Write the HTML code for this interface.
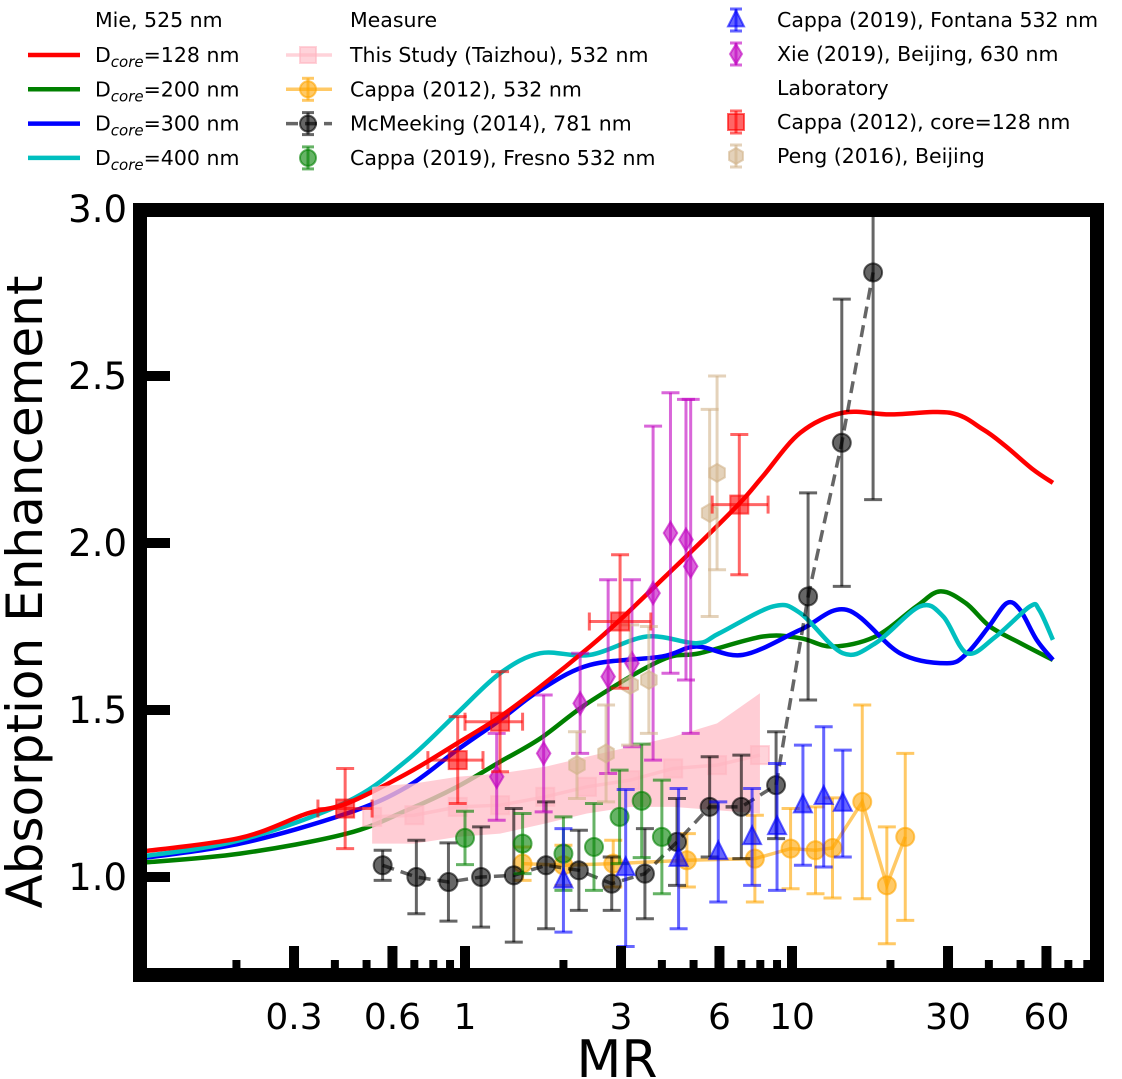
<!DOCTYPE html>
<html><head><meta charset="utf-8">
<style>
html,body{margin:0;padding:0;background:#fff;}
svg{display:block;font-family:"DejaVu Sans","Liberation Sans",sans-serif;}
</style></head>
<body>
<svg id="chart" width="1122" height="1079" viewBox="0 0 1122 1079" xmlns="http://www.w3.org/2000/svg">
<defs><clipPath id="plotclip"><rect x="147" y="217" width="943" height="751"/></clipPath></defs>
<g id="plot" clip-path="url(#plotclip)"></g>
<g id="axes"></g>
<g id="legend"></g>
</svg>
<script>
// ---- Mie curves ----
const mieRedMR = [0.1,0.205,0.329,0.435,0.665,0.945,1.28,1.70,2.41,2.98,4.1,5.23,6.93,8.15,10.6,14.3,20,30.4,38.4,45,54.6,62.8];
const mieRedE  = [1.075,1.117,1.19,1.22,1.31,1.40,1.48,1.57,1.69,1.77,1.90,2.00,2.12,2.20,2.33,2.39,2.385,2.39,2.34,2.29,2.22,2.18];
const mieGreenMR = [0.1,0.205,0.435,0.665,0.945,1.28,1.70,2.41,4.0,5.23,8.15,10.6,13.3,18,24,28.4,34,40.3,50,62.8];
const mieGreenE  = [1.042,1.07,1.13,1.20,1.27,1.345,1.415,1.525,1.65,1.67,1.72,1.715,1.69,1.72,1.81,1.855,1.82,1.75,1.70,1.65];
const mieBlueMR = [0.1,0.205,0.435,0.665,0.945,1.28,1.70,2.41,4.0,5.1,7.08,10.6,14.7,21.4,29.8,34.3,40,45.4,49.8,56,62.8];
const mieBlueE  = [1.055,1.10,1.19,1.27,1.38,1.47,1.56,1.635,1.66,1.69,1.665,1.74,1.80,1.67,1.64,1.67,1.75,1.82,1.80,1.71,1.65];
const mieCyanMR = [0.1,0.205,0.435,0.665,0.945,1.28,1.70,2.41,3.6,5.1,6.0,8.75,10.6,14.3,18,24.6,29,34.3,42,53.4,57,62.8];
const mieCyanE  = [1.06,1.11,1.225,1.35,1.49,1.61,1.67,1.665,1.72,1.70,1.73,1.81,1.79,1.67,1.70,1.81,1.78,1.67,1.72,1.81,1.80,1.71];
// ---- This study (Taizhou) ----
const studyMR = [0.52,0.70,0.95,1.28,1.76,2.36,3.2,4.33,5.9,7.98];
const studyE  = [1.18,1.185,1.21,1.215,1.24,1.27,1.29,1.325,1.335,1.365];
const studyHi = [1.27,1.28,1.30,1.31,1.33,1.36,1.39,1.42,1.46,1.55];
const studyLo = [1.10,1.10,1.12,1.13,1.16,1.19,1.21,1.21,1.20,1.19];
// ---- Cappa 2012 ambient ----
const cappa12MR = [1.5,2.0,2.84,4.77,7.7,9.9,11.8,13.3,16.4,19.5,22.2];
const cappa12E  = [1.04,1.035,1.04,1.05,1.055,1.085,1.08,1.087,1.225,0.975,1.12];
const cappa12Err= [0.05,0.06,0.07,0.08,0.13,0.12,0.13,0.15,0.29,0.175,0.25];
// ---- McMeeking 2014 ----
const mcmMR = [0.56,0.71,0.89,1.12,1.41,1.77,2.23,2.81,3.55,4.45,5.6,7.0,8.94,11.2,14.2,17.7];
const mcmE  = [1.035,1.0,0.985,1.0,1.005,1.035,1.02,0.98,1.01,1.105,1.21,1.21,1.275,1.84,2.30,2.81];
const mcmErr= [0.045,0.11,0.117,0.15,0.2,0.19,0.12,0.08,0.135,0.13,0.15,0.155,0.16,0.31,0.43,0.68];
// ---- Cappa 2019 Fresno ----
const fresnoMR = [1.0,1.5,2.0,2.48,2.97,3.47,4.0];
const fresnoE  = [1.117,1.10,1.07,1.09,1.18,1.228,1.12];
const fresnoErr= [0.08,0.09,0.11,0.13,0.14,0.17,0.17];
// ---- Cappa 2019 Fontana ----
const fontanaMR = [2.0,3.1,4.5,5.95,7.55,9.0,10.8,12.5,14.3];
const fontanaE  = [0.99,1.027,1.055,1.075,1.12,1.15,1.215,1.24,1.22];
const fontanaErr= [0.155,0.235,0.21,0.15,0.145,0.19,0.18,0.21,0.16];
// ---- Xie 2019 ----
const xieMR = [1.25,1.74,2.25,2.74,3.24,3.76,4.25,4.74,4.9];
const xieE  = [1.30,1.37,1.52,1.60,1.64,1.85,2.03,2.01,1.93];
const xieErr= [0.13,0.175,0.15,0.29,0.25,0.5,0.42,0.42,0.5];
// ---- Peng 2016 ----
const pengMR = [2.2,2.7,3.2,3.65,5.6,5.9];
const pengE  = [1.335,1.37,1.575,1.59,2.09,2.21];
const pengErr= [0.1,0.145,0.18,0.16,0.31,0.29];
// ---- Cappa 2012 laboratory ----
const labMR = [0.43,0.95,1.28,2.98,6.9];
const labE  = [1.205,1.35,1.465,1.765,2.115];
const labErr= [0.12,0.13,0.15,0.2,0.21];
const labXLo= [0.355,0.77,1.0,2.4,5.7];
const labXHi= [0.52,1.135,1.5,3.7,8.45];
// ---- axis ticks ----
const yTicks = [1.0,1.5,2.0,2.5,3.0];
const xMajor = [0.3,0.6,1,3,6,10,30,60];
const xMajorLabels = ["0.3","0.6","1","3","6","10","30","60"];
const xMinor = [0.2,0.4,0.5,0.7,0.8,0.9,2,4,5,7,8,9,20,40,50,70,80];

const NS="http://www.w3.org/2000/svg";
const X = v => 465 + 327*Math.log10(v);
const Y = v => 877 - (v-1)*334;
const plot=document.getElementById('plot'), axes=document.getElementById('axes'), legend=document.getElementById('legend');
function mk(tag, attrs, parent){const e=document.createElementNS(NS,tag);for(const k in attrs)e.setAttribute(k,attrs[k]);parent.appendChild(e);return e;}
function smoothPath(pts){
  let d=`M${pts[0][0]},${pts[0][1]}`;
  for(let i=0;i<pts.length-1;i++){
    const p0=pts[i-1]||pts[i],p1=pts[i],p2=pts[i+1],p3=pts[i+2]||p2;
    const c1=[p1[0]+(p2[0]-p0[0])/6,p1[1]+(p2[1]-p0[1])/6];
    const c2=[p2[0]-(p3[0]-p1[0])/6,p2[1]-(p3[1]-p1[1])/6];
    d+=` C${c1[0]},${c1[1]} ${c2[0]},${c2[1]} ${p2[0]},${p2[1]}`;
  }
  return d;
}
function mieCurve(mr,e,color,name){
  const p=mk('path',{d:smoothPath(mr.map((m,i)=>[X(m),Y(e[i])])),fill:'none',stroke:color,'stroke-width':4.5},plot);
  
  
}
function marker(shape,cx,cy,color,r,parent){
  let el;
  if(shape==='circle') el=mk('circle',{cx,cy,r},parent);
  else if(shape==='square') el=mk('rect',{x:cx-r,y:cy-r,width:2*r,height:2*r},parent);
  else if(shape==='tri') el=mk('polygon',{points:`${cx},${cy-r*1.2} ${cx-r},${cy+r*0.8} ${cx+r},${cy+r*0.8}`},parent);
  else if(shape==='diamond') el=mk('polygon',{points:`${cx},${cy-r*1.25} ${cx-r*0.75},${cy} ${cx},${cy+r*1.25} ${cx+r*0.75},${cy}`},parent);
  else if(shape==='hex'){let pts=[];for(let k=0;k<6;k++){const a=Math.PI/6+k*Math.PI/3;pts.push(`${cx+r*Math.cos(a)},${cy+r*Math.sin(a)}`);}el=mk('polygon',{points:pts.join(' ')},parent);}
  el.setAttribute('fill',color);el.setAttribute('fill-opacity',0.6);
  el.setAttribute('stroke',color);el.setAttribute('stroke-opacity',0.6);el.setAttribute('stroke-width',2);
  return el;
}
function vbar(cx,y1,y2,color,parent,cap){
  mk('line',{x1:cx,x2:cx,y1,y2,stroke:color,'stroke-width':3,'stroke-opacity':0.6},parent);
  mk('line',{x1:cx-cap,x2:cx+cap,y1,y2:y1,stroke:color,'stroke-width':3,'stroke-opacity':0.6},parent);
  mk('line',{x1:cx-cap,x2:cx+cap,y1:y2,y2,stroke:color,'stroke-width':3,'stroke-opacity':0.6},parent);
}
function series(mr,e,err,color,shape,name,line,dash){
  const g=mk('g',{},plot);
  
  
  if(line){
    const attrs={points:mr.map((m,i)=>`${X(m)},${Y(e[i])}`).join(' '),fill:'none',stroke:color,'stroke-width':3.5,'stroke-opacity':0.6};
    if(dash) attrs['stroke-dasharray']=dash;
    mk('polyline',attrs,g);
  }
  mr.forEach((m,i)=>{
    const cx=X(m),cy=Y(e[i]);
    if(err) vbar(cx,Y(e[i]+err[i]),Y(e[i]-err[i]),color,g,9);
    const mkr=marker(shape,cx,cy,color,9,g);
    
    
  });
}
// Mie curves
mieCurve(mieGreenMR,mieGreenE,'#008000','mie-curve-200nm');
mieCurve(mieBlueMR,mieBlueE,'#0000ff','mie-curve-300nm');
mieCurve(mieCyanMR,mieCyanE,'#00bfbf','mie-curve-400nm');
mieCurve(mieRedMR,mieRedE,'#ff0000','mie-curve-128nm');
// This study band + line
const band=mk('polygon',{points:studyMR.map((m,i)=>`${X(m)},${Y(studyHi[i])}`).concat(studyMR.slice().reverse().map((m,j)=>{const i=studyMR.length-1-j;return `${X(m)},${Y(studyLo[i])}`;})).join(' '),fill:'#ffc0cb','fill-opacity':0.8},plot);


series(studyMR,studyE,null,'#ffb6c1','square','this-study-taizhou',true);
series(cappa12MR,cappa12E,cappa12Err,'#ffa500','circle','cappa-2012-ambient',true);
series(mcmMR,mcmE,mcmErr,'#000000','circle','mcmeeking-2014',true,'12,7');
series(fresnoMR,fresnoE,fresnoErr,'#008000','circle','cappa-2019-fresno',false);
series(fontanaMR,fontanaE,fontanaErr,'#0000ff','tri','cappa-2019-fontana',false);
series(xieMR,xieE,xieErr,'#bf00bf','diamond','xie-2019-beijing',false);
series(pengMR,pengE,pengErr,'#d2b48c','hex','peng-2016-beijing',false);
// lab with x errors
(function(){
  const g=mk('g',{},plot);
  
  
  labMR.forEach((m,i)=>{
    const cx=X(m),cy=Y(labE[i]);
    vbar(cx,Y(labE[i]+labErr[i]),Y(labE[i]-labErr[i]),'#ff0000',g,9);
    const x1=X(labXLo[i]),x2=X(labXHi[i]);
    mk('line',{x1,x2,y1:cy,y2:cy,stroke:'#ff0000','stroke-width':3,'stroke-opacity':0.6},g);
    mk('line',{x1,x2:x1,y1:cy-9,y2:cy+9,stroke:'#ff0000','stroke-width':3,'stroke-opacity':0.6},g);
    mk('line',{x1:x2,x2,y1:cy-9,y2:cy+9,stroke:'#ff0000','stroke-width':3,'stroke-opacity':0.6},g);
    const mkr=marker('square',cx,cy,'#ff0000',9,g);
    
    
  });
})();
// Axes frame
const frame=mk('rect',{x:140,y:210,width:957,height:765,fill:'none',stroke:'#000','stroke-width':14},axes);


yTicks.forEach(v=>{
  const t=mk('line',{x1:147,x2:170,y1:Y(v),y2:Y(v),stroke:'#000','stroke-width':10},axes);
  
  
  const l=mk('text',{x:127,y:Y(v)+13,'text-anchor':'end','font-size':37,fill:'#000'},axes);
  l.textContent=v.toFixed(1);
  
  
});
xMajor.forEach((v,i)=>{
  const t=mk('line',{x1:X(v),x2:X(v),y1:946,y2:968,stroke:'#000','stroke-width':10},axes);
  
  
  const l=mk('text',{x:X(v),y:1029,'text-anchor':'middle','font-size':36,fill:'#000'},axes);
  l.textContent=xMajorLabels[i];
  
  
});
xMinor.forEach(v=>{
  const t=mk('line',{x1:X(v),x2:X(v),y1:960,y2:968,stroke:'#000','stroke-width':8},axes);
  
  
});
const yt=mk('text',{x:0,y:0,transform:'translate(42,592) rotate(-90)','text-anchor':'middle','font-size':50,fill:'#000'},axes);
yt.textContent='Absorption Enhancement';


const xt=mk('text',{x:617,y:1077,'text-anchor':'middle','font-size':52,fill:'#000'},axes);
xt.textContent='MR';


// Legend
function ltext(x,y,txt,name){
  const t=mk('text',{x,y:y+7,'font-size':20.5,fill:'#000'},legend);
  t.textContent=txt;
  
  
  return t;
}
ltext(95,20,'Mie, 525 nm','legend-header-mie');
[['#ff0000','128'],['#008000','200'],['#0000ff','300'],['#00bfbf','400']].forEach((c,i)=>{
  const y=55+i*34.3;
  const ln=mk('line',{x1:28,x2:80,y1:y,y2:y,stroke:c[0],'stroke-width':4.5},legend);
  
  
  const t=mk('text',{x:95,y:y+7,'font-size':20.5,fill:'#000'},legend);
  t.innerHTML='D<tspan font-size="15" font-style="italic" dy="5">core</tspan><tspan dy="-5">='+c[1]+' nm</tspan>';
  
  
});
ltext(350,20,'Measure','legend-header-measure');
const leg2=[['#ffb6c1','square','This Study (Taizhou), 532 nm',true,false],['#ffa500','circle','Cappa (2012), 532 nm',true,true],['#000000','circle','McMeeking (2014), 781 nm',true,true],['#008000','circle','Cappa (2019), Fresno 532 nm',false,true]];
leg2.forEach((s,i)=>{
  const y=55+i*34.3,cx=308;
  if(s[3]) mk('line',{x1:286,x2:332,y1:y,y2:y,stroke:s[0],'stroke-width':3.5,'stroke-opacity':0.6,'stroke-dasharray':i===2?'12,7':'none'},legend);
  if(s[4]) vbar(cx,y-11,y+11,s[0],legend,6);
  marker(s[1],cx,y,s[0],8,legend);
  ltext(350,y,s[2],'legend-entry-measure');
});
const leg3=[['#0000ff','tri','Cappa (2019), Fontana 532 nm',20],['#bf00bf','diamond','Xie (2019), Beijing, 630 nm',54],[null,null,'Laboratory',88],['#ff0000','square','Cappa (2012), core=128 nm',122],['#d2b48c','hex','Peng (2016), Beijing',156]];
leg3.forEach(s=>{
  const cx=736,y=s[3];
  if(s[0]){vbar(cx,y-11,y+11,s[0],legend,6);marker(s[1],cx,y,s[0],8,legend);}
  ltext(777,y,s[2],'legend-entry-study');
});
</script>
</body></html>
